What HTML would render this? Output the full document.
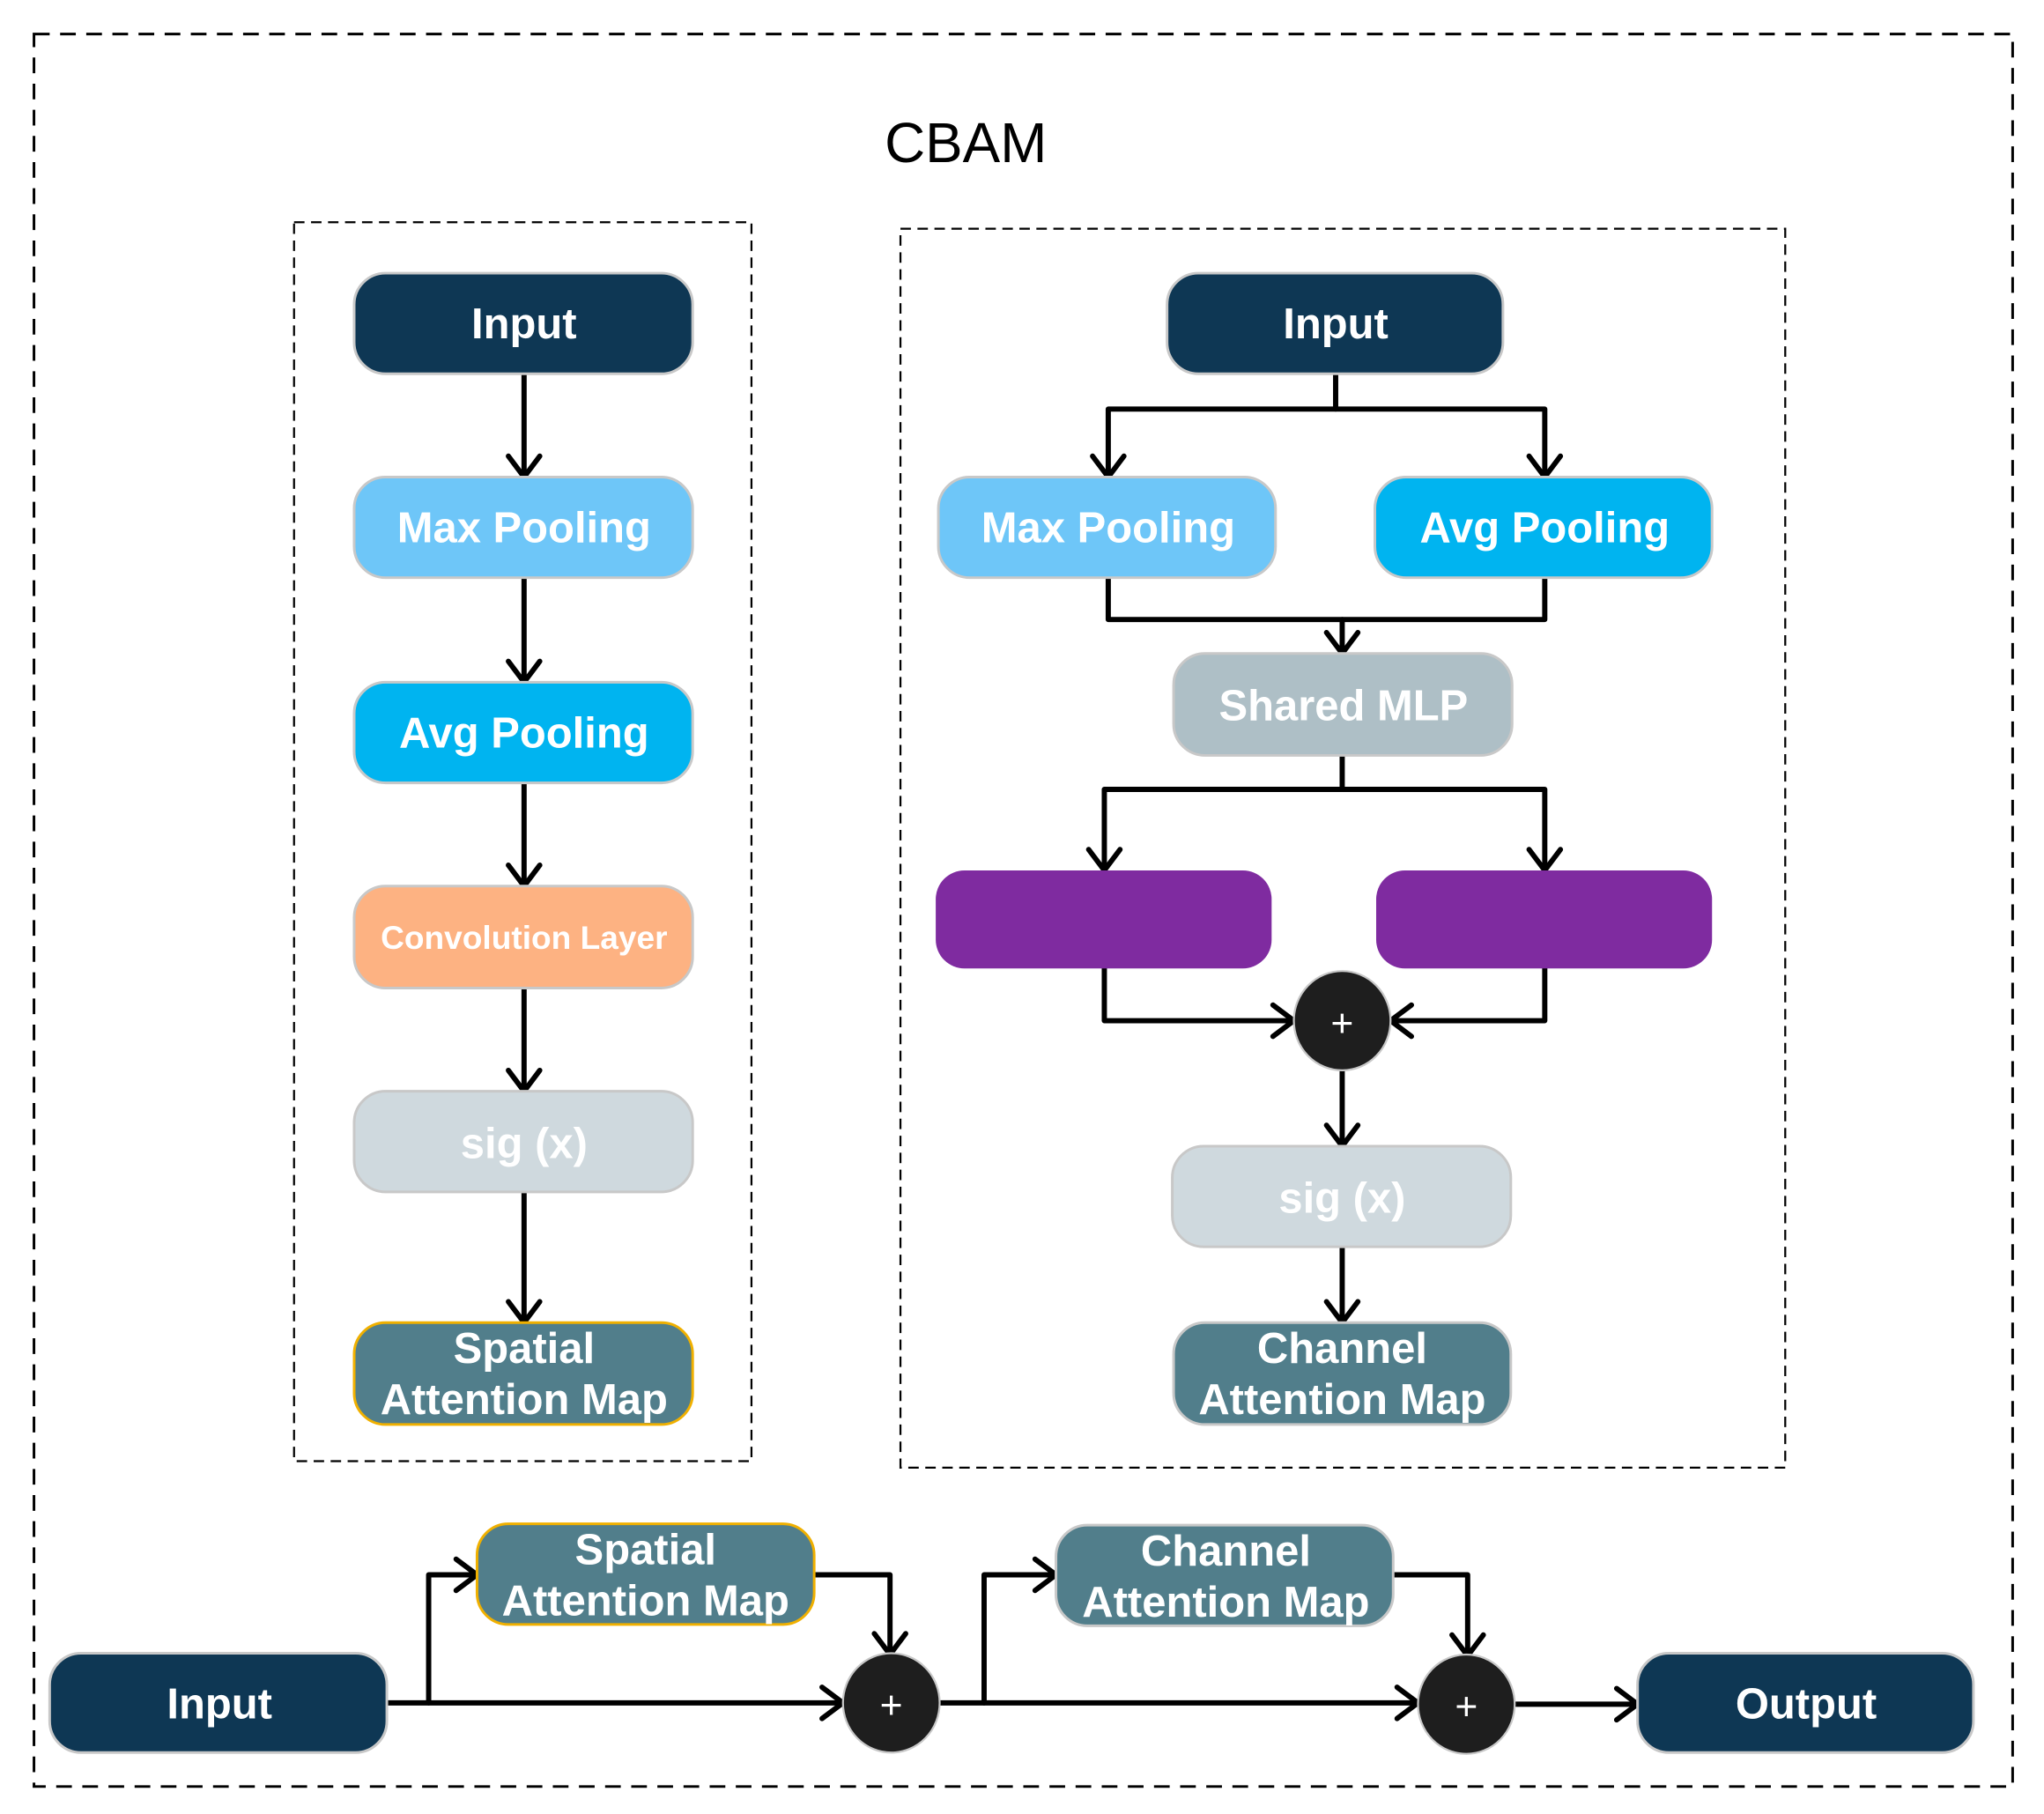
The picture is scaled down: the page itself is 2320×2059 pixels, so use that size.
<!DOCTYPE html>
<html><head><meta charset="utf-8"><style>
html,body{margin:0;padding:0;background:#fff;}
svg{display:block;}
text{font-family:"Liberation Sans",Arial,sans-serif;}
.t{font-weight:bold;fill:#fff;font-size:33px;text-anchor:middle;}
.ln{stroke:#000;stroke-width:4;fill:none;stroke-linecap:round;stroke-linejoin:round;}
.bx{stroke:#c8c8c8;stroke-width:2;}
</style></head><body>
<svg width="2320" height="2059" viewBox="0 0 1564 1388" xmlns="http://www.w3.org/2000/svg">
<defs>
<marker id="a" markerUnits="userSpaceOnUse" markerWidth="40" markerHeight="40" refX="20" refY="20" orient="auto">
<path d="M4,8 L20,20 L4,32" fill="none" stroke="#000" stroke-width="4" stroke-linecap="round" stroke-linejoin="miter"/>
</marker>
</defs>
<rect x="26" y="26" width="1514" height="1341" fill="none" stroke="#000" stroke-width="2" stroke-dasharray="12,8"/>
<rect x="225" y="170" width="350" height="948" fill="none" stroke="#000" stroke-width="1.5" stroke-dasharray="8,5"/>
<rect x="689" y="175" width="677" height="948" fill="none" stroke="#000" stroke-width="1.5" stroke-dasharray="8,5"/>
<text x="739" y="124" font-size="43" text-anchor="middle" fill="#000">CBAM</text>

<path class="ln" d="M401,286 V365" marker-end="url(#a)"/>
<path class="ln" d="M401,442 V522" marker-end="url(#a)"/>
<path class="ln" d="M401,599 V678" marker-end="url(#a)"/>
<path class="ln" d="M401,756 V835" marker-end="url(#a)"/>
<path class="ln" d="M401,912 V1012" marker-end="url(#a)"/>
<path class="ln" d="M1022,286 V313 H848 V365" marker-end="url(#a)"/>
<path class="ln" d="M1022,313 H1182 V365" marker-end="url(#a)"/>
<path class="ln" d="M848,442 V474 H1182 V442"/>
<path class="ln" d="M1027,474 V500" marker-end="url(#a)"/>
<path class="ln" d="M1027,578 V604 H845 V666" marker-end="url(#a)"/>
<path class="ln" d="M1027,604 H1182 V666" marker-end="url(#a)"/>
<path class="ln" d="M845,741 V781 H990" marker-end="url(#a)"/>
<path class="ln" d="M1182,741 V781 H1064" marker-end="url(#a)"/>
<path class="ln" d="M1027,818 V877" marker-end="url(#a)"/>
<path class="ln" d="M1027,954 V1012" marker-end="url(#a)"/>
<path class="ln" d="M296,1303 H645" marker-end="url(#a)"/>
<path class="ln" d="M328,1303 V1205 H365" marker-end="url(#a)"/>
<path class="ln" d="M623,1205 H681 V1266" marker-end="url(#a)"/>
<path class="ln" d="M719,1303 H1085" marker-end="url(#a)"/>
<path class="ln" d="M753,1303 V1205 H808" marker-end="url(#a)"/>
<path class="ln" d="M1066,1205 H1123 V1267" marker-end="url(#a)"/>
<path class="ln" d="M1160,1304 H1253" marker-end="url(#a)"/>

<rect class="bx" x="271" y="209" width="259" height="77" rx="24" fill="#0e3754"/>
<text class="t" x="401" y="259">Input</text>
<rect class="bx" x="271" y="365" width="259" height="77" rx="24" fill="#6ec6f8"/>
<text class="t" x="401" y="415">Max Pooling</text>
<rect class="bx" x="271" y="522" width="259" height="77" rx="24" fill="#00b4f0"/>
<text class="t" x="401" y="572">Avg Pooling</text>
<rect class="bx" x="271" y="678" width="259" height="78" rx="24" fill="#fdb282"/>
<text class="t" x="401" y="726" style="font-size:25px">Convolution Layer</text>
<rect class="bx" x="271" y="835" width="259" height="77" rx="24" fill="#cfd9de"/>
<text class="t" x="401" y="886" fill="#f4f6f7">sig (x)</text>
<rect x="271" y="1012" width="259" height="78" rx="24" fill="#517e8b" stroke="#f0b000" stroke-width="2"/>
<text class="t" x="401" y="1043">Spatial</text>
<text class="t" x="401" y="1082">Attention Map</text>

<rect class="bx" x="893" y="209" width="257" height="77" rx="24" fill="#0e3754"/>
<text class="t" x="1022" y="259">Input</text>
<rect class="bx" x="718" y="365" width="258" height="77" rx="24" fill="#6ec6f8"/>
<text class="t" x="848" y="415">Max Pooling</text>
<rect class="bx" x="1052" y="365" width="258" height="77" rx="24" fill="#00b4f0"/>
<text class="t" x="1182" y="415">Avg Pooling</text>
<rect class="bx" x="898" y="500" width="259" height="78" rx="24" fill="#aebfc6"/>
<text class="t" x="1028" y="551">Shared MLP</text>
<rect x="716" y="666" width="257" height="75" rx="22" fill="#7f2ba0"/>
<rect x="1053" y="666" width="257" height="75" rx="22" fill="#7f2ba0"/>
<ellipse cx="1027" cy="781" rx="37" ry="38" fill="#1e1e1e" stroke="#c8c8c8" stroke-width="1.5"/>
<text x="1027" y="793" font-size="30" fill="#fff" text-anchor="middle">+</text>
<rect class="bx" x="897" y="877" width="259" height="77" rx="24" fill="#cfd9de"/>
<text class="t" x="1027" y="928" fill="#f4f6f7">sig (x)</text>
<rect class="bx" x="898" y="1012" width="258" height="78" rx="24" fill="#517e8b"/>
<text class="t" x="1027" y="1043">Channel</text>
<text class="t" x="1027" y="1082">Attention Map</text>

<rect class="bx" x="38" y="1265" width="258" height="76" rx="24" fill="#0e3754"/>
<text class="t" x="168" y="1315">Input</text>
<rect x="365" y="1166" width="258" height="77" rx="24" fill="#517e8b" stroke="#f0b000" stroke-width="2"/>
<text class="t" x="494" y="1197">Spatial</text>
<text class="t" x="494" y="1236">Attention Map</text>
<ellipse cx="682" cy="1303" rx="37" ry="38" fill="#1e1e1e" stroke="#c8c8c8" stroke-width="1.5"/>
<text x="682" y="1315" font-size="30" fill="#fff" text-anchor="middle">+</text>
<rect class="bx" x="808" y="1167" width="258" height="77" rx="24" fill="#517e8b"/>
<text class="t" x="938" y="1198">Channel</text>
<text class="t" x="938" y="1237">Attention Map</text>
<ellipse cx="1122" cy="1304" rx="37" ry="38" fill="#1e1e1e" stroke="#c8c8c8" stroke-width="1.5"/>
<text x="1122" y="1316" font-size="30" fill="#fff" text-anchor="middle">+</text>
<rect class="bx" x="1253" y="1265" width="257" height="76" rx="24" fill="#0e3754"/>
<text class="t" x="1382" y="1315">Output</text>
</svg>
</body></html>
